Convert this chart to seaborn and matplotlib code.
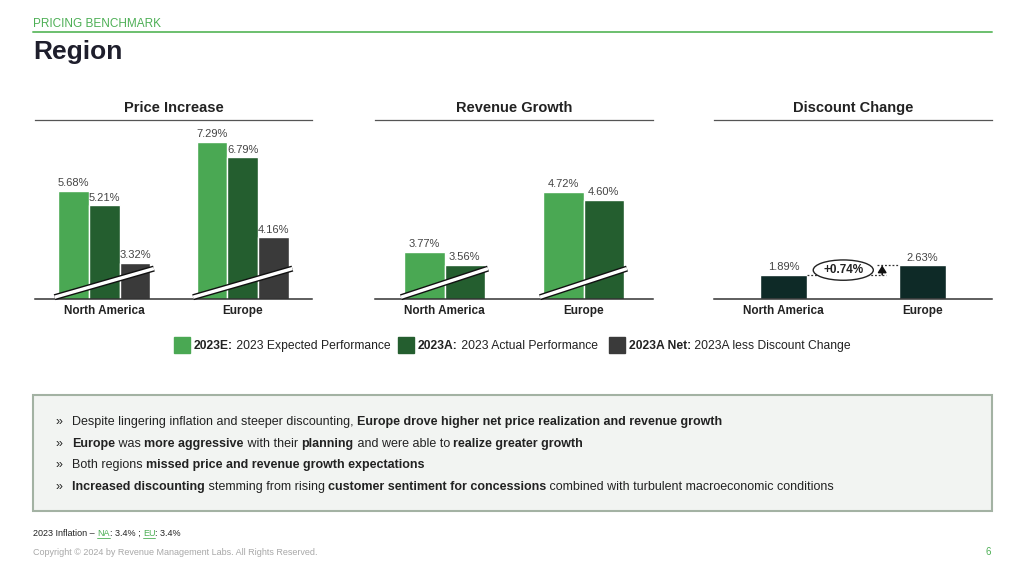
import numpy as np, pandas as pd
import matplotlib; matplotlib.use("Agg"); import matplotlib.pyplot as plt
import matplotlib.transforms as mtransforms
from matplotlib.patches import Rectangle
import seaborn as sns

# ---- data ----
regions = ["North America", "Europe"]
series = ["2023E", "2023A", "2023A Net"]
price_expected = [5.68, 7.29]
price_actual = [5.21, 6.79]
price_net = [3.32, 4.16]
rev_expected = [3.77, 4.72]
rev_actual = [3.56, 4.60]
discount = [1.89, 2.63]

legend_bold = ["2023E:", "2023A:", "2023A Net:"]
legend_text = [" 2023 Expected Performance", " 2023 Actual Performance", " 2023A less Discount Change"]

bullets = [
    [("Despite lingering inflation and steeper discounting, ", "normal"),
     ("Europe drove higher net price realization and revenue growth", "bold")],
    [("Europe", "bold"), (" was ", "normal"), ("more aggressive", "bold"), (" with their ", "normal"),
     ("planning", "bold"), (" and were able to ", "normal"), ("realize greater growth", "bold")],
    [("Both regions ", "normal"), ("missed price and revenue growth expectations", "bold")],
    [("Increased discounting", "bold"), (" stemming from rising ", "normal"),
     ("customer sentiment for concessions", "bold"),
     (" combined with turbulent macroeconomic conditions", "normal")],
]

C_E, C_A, C_NET, C_DISC = "#4AA853", "#245E2F", "#3A3A3A", "#0E2A27"
GREEN = "#4DAF55"
INK = "#222222"
LABEL = "#444444"

sns.set_theme(style="white")
plt.rcParams["font.family"] = ["Liberation Sans", "DejaVu Sans"]

fig = plt.figure(figsize=(10.24, 5.76), dpi=100)
# full-figure overlay in pixel coordinates for the slide furniture
bg = fig.add_axes([0, 0, 1, 1])
bg.set_xlim(0, 1024); bg.set_ylim(576, 0); bg.axis("off")
R = fig.canvas.get_renderer()


def rich(x, y, parts, size, color=INK, underline=()):
    inv = bg.transData.inverted()
    for i, (s, w) in enumerate(parts):
        c = GREEN if i in underline else color
        t = bg.text(x, y, s, fontsize=size, fontweight=w, color=c, va="baseline", ha="left")
        bb = t.get_window_extent(R)
        x0 = inv.transform((bb.x0, bb.y0))[0]
        x1 = inv.transform((bb.x1, bb.y0))[0]
        if i in underline:
            bg.plot([x0, x1], [y + 1.5, y + 1.5], color=GREEN, lw=0.6)
        x = x1
    return x


# header
bg.text(33, 27, "PRICING BENCHMARK", fontsize=8.5, color=GREEN, va="baseline")
bg.plot([33, 992], [32, 32], color="#6BBF6E", lw=1.4)
bg.text(33, 59, "Region", fontsize=19, fontweight="bold", color="#1E1E2C", va="baseline")


def breaks(ax, width):
    tr = mtransforms.blended_transform_factory(ax.transData, ax.transAxes)
    for i in range(len(regions)):
        xs = [i - width / 2 - 0.025, i + width / 2 + 0.025]
        ys = [0.01, 0.17]
        ax.plot(xs, ys, transform=tr, color="#111111", lw=4.4, solid_capstyle="butt", zorder=5, clip_on=False)
        ax.plot(xs, ys, transform=tr, color="white", lw=2.4, solid_capstyle="butt", zorder=6, clip_on=False)


def style(ax, title, ylim):
    ax.set_xlim(-0.5, 1.5); ax.set_ylim(*ylim)
    ax.set_title(title, fontsize=10.5, fontweight="bold", color=INK, pad=6)
    ax.set_xlabel(""); ax.set_ylabel(""); ax.set_yticks([])
    ax.set_xticks([0, 1]); ax.set_xticklabels(regions, fontsize=8.5, fontweight="bold", color=INK)
    ax.tick_params(axis="x", length=0, pad=4)
    for s in ["left", "right"]:
        ax.spines[s].set_visible(False)
    ax.spines["top"].set_color("#555555"); ax.spines["top"].set_linewidth(0.9)
    ax.spines["bottom"].set_color("#333333"); ax.spines["bottom"].set_linewidth(1.1)
    for c in ax.containers:
        ax.bar_label(c, labels=[f"{v:.2f}%" for v in c.datavalues], padding=2, fontsize=8, color=LABEL)


# Price Increase
df1 = pd.DataFrame({"region": regions * 3, "series": np.repeat(series, 2),
                    "value": price_expected + price_actual + price_net})
ax1 = fig.add_axes([35 / 1024, 1 - 299 / 576, 277 / 1024, 179 / 576])
sns.barplot(data=df1, x="region", y="value", hue="series", palette=[C_E, C_A, C_NET],
            width=0.667, saturation=1, errorbar=None, legend=False, ax=ax1)
style(ax1, "Price Increase", (2.13, 8.02))
breaks(ax1, 0.667)

# Revenue Growth
df2 = pd.DataFrame({"region": regions * 2, "series": np.repeat(series[:2], 2),
                    "value": rev_expected + rev_actual})
ax2 = fig.add_axes([375 / 1024, 1 - 299 / 576, 278 / 1024, 179 / 576])
sns.barplot(data=df2, x="region", y="value", hue="series", palette=[C_E, C_A],
            width=0.576, saturation=1, errorbar=None, legend=False, ax=ax2)
style(ax2, "Revenue Growth", (3.025, 5.86))
breaks(ax2, 0.576)

# Discount Change
w3 = 0.338
df3 = pd.DataFrame({"region": regions, "value": discount})
ax3 = fig.add_axes([714 / 1024, 1 - 299 / 576, 278 / 1024, 179 / 576])
sns.barplot(data=df3, x="region", y="value", color=C_DISC, width=w3, saturation=1,
            errorbar=None, ax=ax3)
style(ax3, "Discount Change", (0, 14))
na, eu = discount
ax3.hlines(na, w3 / 2, 0.74, colors="#333333", linestyles=(0, (1.5, 1.5)), lw=0.9)
ax3.hlines(eu, 0.67, 1 - w3 / 2, colors="#333333", linestyles=(0, (1.5, 1.5)), lw=0.9)
ax3.annotate("", xy=(0.71, eu), xytext=(0.71, na),
             arrowprops=dict(arrowstyle="-|>,head_width=0.22,head_length=0.35",
                             color="#111111", lw=1.1, shrinkA=0, shrinkB=0))
ax3.text(0.43, (na + eu) / 2, f"+{eu - na:.2f}%", ha="center", va="center", fontsize=8.5,
         fontweight="bold", color=INK,
         bbox=dict(boxstyle="ellipse,pad=0.1", fc="white", ec="#222222", lw=1))

# legend
for x, col, b, t in zip([174, 398, 609], [C_E, C_A, C_NET], legend_bold, legend_text):
    bg.add_patch(Rectangle((x, 337), 16, 16, color=col))
    rich(x + 20, 349, [(b, "bold"), (t, "normal")], 8.7)

# commentary box
bg.add_patch(Rectangle((33, 395), 959, 116, fc="#F2F4F2", ec="#A3B2A3", lw=1.5))
for k, parts in enumerate(bullets):
    y = 425 + k * 21.7
    bg.text(56, y, "»", fontsize=9, color=INK, va="baseline")
    rich(72, y, parts, 9)

# footer
rich(33, 536, [("2023 Inflation – ", "normal"), ("NA", "normal"), (": 3.4% ; ", "normal"),
               ("EU", "normal"), (": 3.4%", "normal")], 6.5, underline=(1, 3))
bg.text(33, 555, "Copyright © 2024 by Revenue Management Labs. All Rights Reserved.",
        fontsize=6.5, color="#A8A8A8", va="baseline")
bg.text(991, 555, "6", fontsize=7, color=GREEN, va="baseline", ha="right")

fig.savefig("out.png", dpi=100)
